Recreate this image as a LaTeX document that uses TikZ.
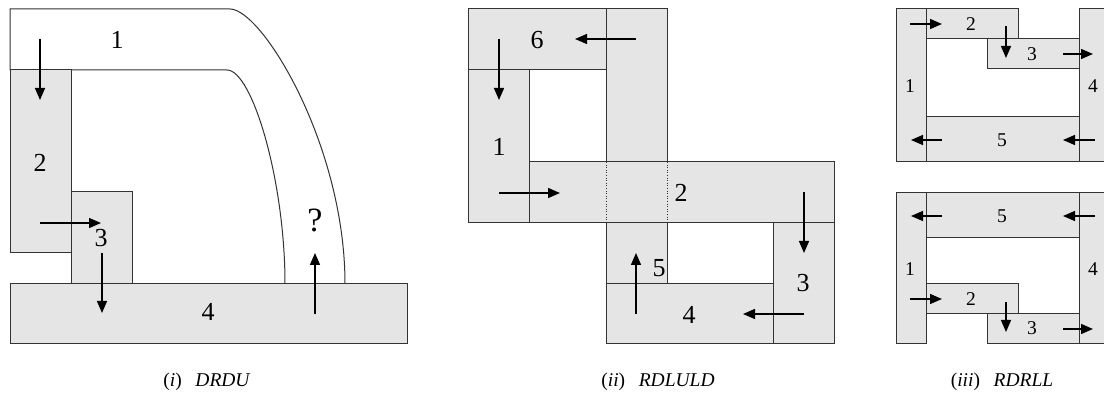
\documentclass[tikz,border=0pt]{standalone}
\usepackage{fontspec}
\setmainfont{Liberation Serif}
\usetikzlibrary{arrows.meta}
\definecolor{blockfill}{HTML}{E5E5E5}
\definecolor{edge}{HTML}{333333}
\tikzset{
  block/.style={fill=blockfill, draw=edge, line width=1pt},
  hole/.style={fill=white, draw=edge, line width=1pt},
  seam/.style={draw=edge, line width=0.6pt, dotted},
  flow/.style={-{Triangle[length=12pt,width=10pt]}, line width=1.4pt, black},
  big/.style={font=\fontsize{26}{26}\selectfont, inner sep=0pt},
  huge/.style={font=\fontsize{34}{34}\selectfont, inner sep=0pt},
  small/.style={font=\fontsize{19.5}{19.5}\selectfont, inner sep=0pt},
  caption/.style={font=\fontsize{19.5}{19.5}\selectfont, inner sep=0pt},
}
\begin{document}
\begin{tikzpicture}[x=1pt,y=-1pt]
\clip (0,0) rectangle (1104,403);
\fill[white] (0,0) rectangle (1104,403);

% ---- (i) DRDU ----
\draw[hole] (10,70) -- (10,9) -- (230,9)
  .. controls (262,9) and (345,145) .. (345,284)
  -- (285,284) .. controls (285,180) and (252,70) .. (227,70) -- cycle;
\draw[block] (10,70) rectangle (71,253);
\draw[block] (71,192) rectangle (132,284);
\draw[block] (10,284) rectangle (407,344);
\node[big] (a1) at (117,40) {1};
\node[big] (a2) at (40,163) {2};
\node[big] (a3) at (101,238) {3};
\node[big] (a4) at (208,312) {4};
\node[huge] (aq) at (315,220) {?};
\draw[flow] (40,39) -- (40,100);
\draw[flow] (40,223) -- (101,223);
\draw[flow] (102,253) -- (102,313);
\draw[flow] (315,314) -- (315,253);

% ---- (ii) RDLULD ----
\draw[block] (606,9) rectangle (667,284);
\draw[block] (529,162) rectangle (834,223);
\draw[seam] (606,162) -- (606,223);
\draw[seam] (667,162) -- (667,223);
\draw[block] (468,9) rectangle (606,70);
\draw[block] (468,70) rectangle (529,223);
\draw[block] (773,223) rectangle (834,344);
\draw[block] (606,284) rectangle (773,344);
\node[big] (b6) at (537,40) {6};
\node[big] (b1) at (499,147) {1};
\node[big] (b2) at (681,193) {2};
\node[big] (b3) at (803,283) {3};
\node[big] (b4) at (689,315) {4};
\node[big] (b5) at (659,268) {5};
\draw[flow] (636,39) -- (575,39);
\draw[flow] (499,39) -- (499,100);
\draw[flow] (499,193) -- (560,193);
\draw[flow] (804,192) -- (804,253);
\draw[flow] (804,314) -- (743,314);
\draw[flow] (636,314) -- (636,253);

% ---- (iii) RDRLL, upper ----
\draw[block] (896,9) rectangle (926,162);
\draw[block] (926,9) rectangle (1018,39);
\draw[block] (987,39) rectangle (1079,69);
\draw[block] (1079,9) rectangle (1130,162);
\draw[block] (926,117) rectangle (1079,162);
\node[small] (c1) at (910,86) {1};
\node[small] (c2) at (971,24) {2};
\node[small] (c3) at (1032,54) {3};
\node[small] (c4) at (1093,86) {4};
\node[small] (c5) at (1002,140) {5};
\draw[flow] (910,24) -- (942,24);
\draw[flow] (1006,26) -- (1006,58);
\draw[flow] (1063,54) -- (1093,54);
\draw[flow] (1095,140) -- (1063,140);
\draw[flow] (942,140) -- (911,140);

% ---- (iii) RDRLL, lower ----
\draw[block] (896,193) rectangle (926,344);
\draw[block] (926,193) rectangle (1079,238);
\draw[block] (1079,193) rectangle (1130,344);
\draw[block] (926,284) rectangle (1018,314);
\draw[block] (987,314) rectangle (1079,344);
\node[small] (d5) at (1002,216) {5};
\node[small] (d1) at (910,269) {1};
\node[small] (d4) at (1093,269) {4};
\node[small] (d2) at (971,299) {2};
\node[small] (d3) at (1032,328) {3};
\draw[flow] (1095,216) -- (1063,216);
\draw[flow] (942,216) -- (911,216);
\draw[flow] (910,299) -- (942,299);
\draw[flow] (1006,302) -- (1006,332);
\draw[flow] (1063,329) -- (1093,329);

% ---- captions ----
\node[caption] (capi) at (207,382) {(\textit{i})\hspace{0.7em}\textit{DRDU}};
\node[caption] (capii) at (658,382) {(\textit{ii})\hspace{0.7em}\textit{RDLULD}};
\node[caption] (capiii) at (1002,382) {(\textit{iii})\hspace{0.7em}\textit{RDRLL}};
\end{tikzpicture}
\end{document}
